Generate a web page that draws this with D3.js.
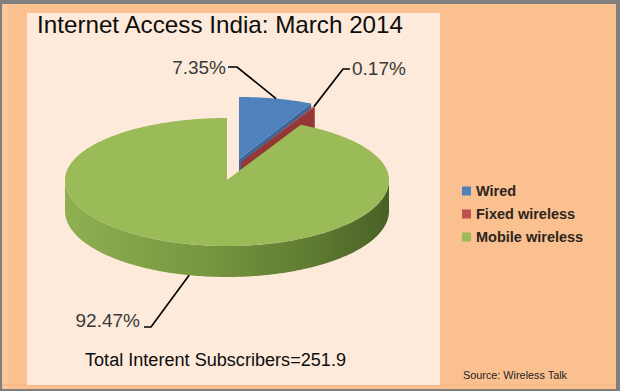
<!DOCTYPE html>
<html><head><meta charset="utf-8">
<script src="https://cdn.jsdelivr.net/npm/d3@7"></script>
<style>html,body{margin:0;padding:0;background:#fff}svg{display:block}</style>
</head><body>
<script>
// ---- data ----
const categories = ["Wired", "Fixed wireless", "Mobile wireless"];
const shares = [7.35, 0.17, 92.47];
const shareLabels = ["7.35%", "0.17%", "92.47%"];
const titleText = "Internet Access India: March 2014";
const totalText = "Total Interent Subscribers=251.9";
const sourceText = "Source: Wireless Talk";

// ---- layout / style ----
const W = 620, H = 391;
const topColors = ["#4f81bd", "#c0504d", "#9bbb59"];
const faceColors = ["#3b679c", "#953735", "#6f8f3a"];
const cx = 227, cy = 180, rx = 162, ryTop = 62, ryBot = 66, depth = 31;
const explode = [[12, -21], [14, -18], [0, 0]];
const labelPos = [
  {x: 226, y: 74, anchor: "end", h: [[228, 67], [237, 67]]},
  {x: 352, y: 75, anchor: "start", h: [[350, 69], [343, 69]]},
  {x: 140, y: 327, anchor: "end", h: [[144, 327], [151, 327]]}
];
const font = "'Liberation Sans', Arial, sans-serif";

const svg = d3.select("body").append("svg").attr("width", W).attr("height", H);

// backgrounds
svg.append("rect").attr("width", W).attr("height", H).attr("fill", "#7f7f7f");
svg.append("rect").attr("x", 2).attr("y", 4).attr("width", 614).attr("height", 385).attr("fill", "#fac08f");
svg.append("rect").attr("x", 3).attr("y", 4).attr("width", 5).attr("height", 385).attr("fill", "#fbc9a0");
svg.append("rect").attr("x", 2).attr("y", 384).attr("width", 614).attr("height", 2).attr("fill", "#f6b987");
svg.append("rect").attr("x", 27).attr("y", 13).attr("width", 413).attr("height", 372).attr("fill", "#fdeada");

// gradient for side wall
const defs = svg.append("defs");
const grad = defs.append("linearGradient").attr("id", "side").attr("gradientUnits", "userSpaceOnUse")
  .attr("x1", cx - rx).attr("x2", cx + rx).attr("y1", 0).attr("y2", 0);
[["0", "#8fb051"], ["0.45", "#76953f"], ["0.8", "#5c7730"], ["1", "#4a6126"]].forEach(s =>
  grad.append("stop").attr("offset", s[0]).attr("stop-color", s[1]));

// ---- pie geometry ----
const pie = d3.pie().sort(null).value(d => d);
const arcs = pie(shares);
const rScale = d3.scaleLinear().domain([0, 1]).range([0, rx]);

function pt(a, r, z, off) {
  const ry = Math.cos(a) > 0 ? ryTop : ryBot;
  return [cx + off[0] + rScale(r) * Math.sin(a), cy + off[1] - r * ry * Math.cos(a) + z];
}
function arcPts(a0, a1, z, off) {
  const n = Math.max(2, Math.ceil(Math.abs(a1 - a0) / 0.01));
  return d3.range(n + 1).map(i => pt(a0 + (a1 - a0) * i / n, 1, z, off));
}
const line = d3.line();

const g = svg.append("g");
function drawSlice(i) {
  const a = arcs[i], off = explode[i];
  // side wall (front half only)
  const s0 = Math.max(a.startAngle, Math.PI / 2), s1 = Math.min(a.endAngle, 3 * Math.PI / 2);
  if (s1 > s0) {
    const pts = arcPts(s0, s1, 0, off).concat(arcPts(s1, s0, depth, off));
    g.append("path").attr("d", line(pts) + "Z").attr("fill", i === 2 ? "url(#side)" : faceColors[i]);
  }
  // end cut face (visible if facing viewer)
  const e = a.endAngle;
  if (Math.cos(e) > 0 && e < Math.PI * 1.99) {
    const pts = [pt(e, 0, 0, off), pt(e, 1, 0, off), pt(e, 1, depth, off), pt(e, 0, depth, off)];
    g.append("path").attr("d", line(pts) + "Z").attr("fill", faceColors[i]);
  }
  // top face
  const top = [pt(0, 0, 0, off)].concat(arcPts(a.startAngle, a.endAngle, 0, off));
  g.append("path").attr("d", line(top) + "Z").attr("fill", topColors[i]);
}
[0, 1, 2].forEach(drawSlice);

// ---- leader lines & labels ----
arcs.forEach((a, i) => {
  const mid = (a.startAngle + a.endAngle) / 2;
  const anchor = i === 2 ? pt(mid, 1, depth, explode[i]) : pt(mid, 1, 0, explode[i]);
  const L = labelPos[i];
  svg.append("path").attr("d", line([L.h[0], L.h[1], anchor]))
    .attr("fill", "none").attr("stroke", "#000").attr("stroke-width", 1.7);
  svg.append("text").attr("x", L.x).attr("y", L.y).attr("text-anchor", L.anchor)
    .attr("font-family", font).attr("font-size", 19).attr("fill", "#3a3a3a")
    .text(shareLabels[i]);
});

// ---- texts ----
svg.append("text").attr("x", 37).attr("y", 33).attr("font-family", font).attr("font-size", 24)
  .attr("fill", "#0d0d0d").attr("textLength", 366).attr("lengthAdjust", "spacingAndGlyphs").text(titleText);
svg.append("text").attr("x", 85).attr("y", 366).attr("font-family", font).attr("font-size", 18)
  .attr("fill", "#0d0d0d").attr("textLength", 261).attr("lengthAdjust", "spacingAndGlyphs").text(totalText);
svg.append("text").attr("x", 463).attr("y", 379).attr("font-family", font).attr("font-size", 11)
  .attr("fill", "#262626").attr("textLength", 104).attr("lengthAdjust", "spacingAndGlyphs").text(sourceText);

// ---- legend ----
const legY = d3.scalePoint().domain(categories).range([191, 237]);
const leg = svg.append("g");
categories.forEach((c, i) => {
  leg.append("rect").attr("x", 462).attr("y", legY(c) - 4.5).attr("width", 9).attr("height", 9).attr("fill", topColors[i]);
  leg.append("text").attr("x", 476).attr("y", legY(c) + 5).attr("font-family", font).attr("font-weight", "bold")
    .attr("font-size", 14.5).attr("fill", "#2b2520").text(c);
});
</script>
</body></html>
